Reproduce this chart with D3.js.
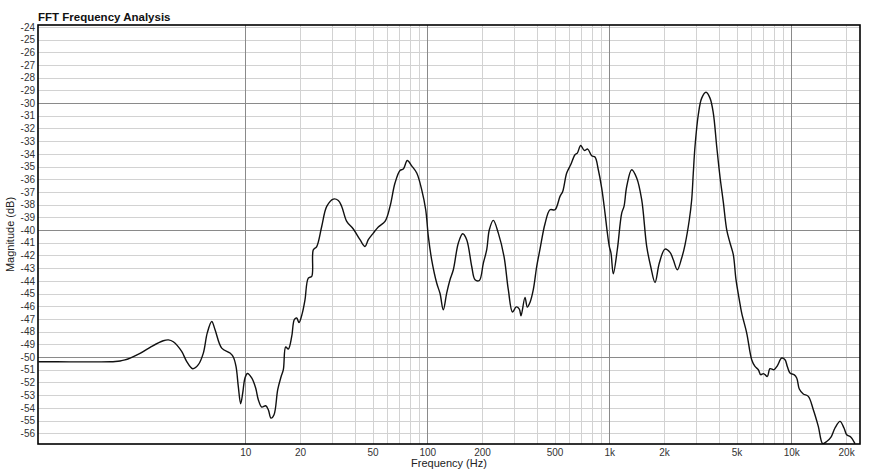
<!DOCTYPE html>
<html>
<head>
<meta charset="utf-8">
<script src="https://cdn.jsdelivr.net/npm/d3@7/dist/d3.min.js"></script>
<style>
  html, body { margin: 0; padding: 0; background: #fff; }
  svg { display: block; font-family: "Liberation Sans", Arial, Helvetica, sans-serif; }
</style>
</head>
<body>
<svg id="chart" width="875" height="472"></svg>
<script>
// ---------- data ----------
const title = "FFT Frequency Analysis";
const xLabel = "Frequency (Hz)";
const yLabel = "Magnitude (dB)";

const freqHz = [
  0.73, 1.09, 1.59, 1.81, 1.93, 2.05, 2.18, 2.33, 2.64, 3.06, 3.54, 3.78, 4.02, 4.47, 4.76, 5.14, 5.52, 5.88,
  6.18, 6.54, 6.82, 7.42, 8.24, 8.59, 8.89, 9.15, 9.43, 9.68, 9.96, 10.28, 10.84, 11.4, 11.79,
  12.31, 12.94, 13.38, 13.84, 14.38, 15.07, 15.71, 16.18, 16.67, 17.23, 17.99, 18.59, 19.16, 19.73, 20.57,
  21.28, 22.19, 23.17, 23.64, 24.68, 26.29, 28.02, 30.45, 32.43, 33.86, 36.07, 39.21, 42.68, 45.47, 47.41,
  50.5, 53.8, 58.57, 62.4, 66.45, 70.8, 73.8, 77.65, 82.1, 87.5, 93.2, 98.0, 101.3, 105.7, 112.6,
  117.5, 122.4, 127.8, 133.3, 139.0, 148.1, 156.5, 164.6, 175.4, 182.9, 193.1, 203.2, 212.1, 219.2, 230.5,
  245.6, 263.9, 278.7, 293.9, 308.3, 320.3, 327.2, 344.2, 354.4, 366.7, 382.3, 399.1, 416.1, 443.4, 472.3,
  503, 536, 554.6, 583.3, 613.6, 647.8, 667.1, 696.5, 728.9, 760.9, 800.4, 834.5, 870.2, 908.3, 947.1,
  971.3, 1000, 1021.7, 1051.9, 1106.5, 1170, 1204.6, 1246.4, 1327.8, 1414.4, 1506.6, 1605.1, 1688.5, 1783, 1883,
  2023, 2156, 2247, 2364, 2499, 2606, 2752, 2836, 2894, 2957, 3083, 3219, 3399, 3575, 3728,
  3892, 4057, 4231, 4418, 4606, 4801, 4968, 5180, 5340, 5689, 6059, 6318, 6588, 6791, 7019,
  7171, 7383, 7640, 8036, 8377, 8857, 9236, 9506, 9837, 10347, 10708, 11066, 11638, 12400, 13213,
  14074, 14876, 15648, 16522, 17381, 18518, 19480, 20158, 21205, 22387
];
const magnitudeDb = [
  -50.37, -50.38, -50.38, -50.37, -50.35, -50.31, -50.23, -50.08, -49.72, -49.16, -48.72, -48.65, -48.8, -49.56, -50.34, -50.92, -50.6, -49.69,
  -48.1, -47.2, -47.85, -49.3, -49.69, -50.0, -50.74, -52.31, -53.68, -52.83, -51.65, -51.3, -51.65, -52.44, -53.36,
  -53.94, -53.84, -54.15, -54.81, -54.54, -52.57, -51.57, -51.0, -49.21, -49.37, -48.38, -47.06, -46.93, -47.28, -46.54,
  -45.49, -43.78, -43.65, -41.55, -41.3, -39.72, -38.14, -37.56, -37.67, -38.14, -39.32, -39.92, -40.76, -41.29, -40.76,
  -40.24, -39.76, -39.32, -38.14, -36.3, -35.3, -35.2, -34.52, -34.94, -35.51, -36.83, -38.4, -40.5, -42.34, -44.17,
  -45.0, -46.28, -44.96, -43.91, -43.13, -41.02, -40.29, -40.76, -42.87, -43.91, -43.97, -42.6, -41.55, -39.98, -39.24,
  -40.24, -42.08, -44.7, -46.45, -46.05, -46.22, -46.75, -45.3, -46.07, -45.7, -44.7, -42.87, -41.5, -39.5, -38.4,
  -38.4, -37.35, -36.96, -35.51, -34.86, -34.07, -33.94, -33.34, -33.73, -33.62, -34.15, -34.25, -35.25, -36.69, -38.66,
  -40.0, -41.29, -41.81, -43.44, -41.55, -38.66, -38.14, -36.57, -35.25, -35.9, -37.61, -41.29, -42.87, -44.13, -42.6,
  -41.5, -41.76, -42.34, -43.13, -42.2, -41.16, -39.19, -37.61, -35.51, -33.42, -30.92, -29.61, -29.15, -29.61, -30.79,
  -33.42, -35.8, -37.8, -39.98, -41.02, -41.94, -43.91, -45.49, -46.54, -48.11, -50.21, -50.74, -51.0, -51.39, -51.31,
  -51.39, -51.53, -50.92, -51.0, -50.69, -50.08, -50.21, -50.74, -51.26, -51.39, -51.65, -52.52, -52.91, -53.1, -54.15,
  -55.46, -56.82, -56.65, -56.3, -55.59, -55.07, -55.59, -56.12, -56.3, -56.82
];

const xTickValues = [10, 20, 50, 100, 200, 500, 1000, 2000, 5000, 10000, 20000];
const xTickLabels = ["10", "20", "50", "100", "200", "500", "1k", "2k", "5k", "10k", "20k"];
const xMajorGrid = [10, 100, 1000, 10000];
const xMinorGrid = [20, 30, 40, 50, 60, 70, 80, 90, 200, 300, 400, 500, 600, 700, 800, 900,
                    2000, 3000, 4000, 5000, 6000, 7000, 8000, 9000, 20000];
const yTickValues = d3.range(-24, -57, -1);
const yMajorGrid = [-30, -40, -50];
const xDomain = [0.726, 23850];
const yDomain = [-56.85, -23.85];

// ---------- layout ----------
const W = 875, H = 472;
const margin = { left: 38, right: 15, top: 25, bottom: 28 };
const svg = d3.select("#chart");

const x = d3.scaleLog().domain(xDomain).range([margin.left, W - margin.right]);
const y = d3.scaleLinear().domain(yDomain).range([H - margin.bottom, margin.top]);

const pw = W - margin.left - margin.right;
const ph = H - margin.top - margin.bottom;

svg.append("defs").append("clipPath").attr("id", "plotClip")
  .append("rect").attr("x", margin.left).attr("y", margin.top).attr("width", pw).attr("height", ph);

const grid = svg.append("g").attr("class", "grid");
grid.selectAll("line.hmin").data(yTickValues.filter(v => !yMajorGrid.includes(v))).join("line")
  .attr("x1", margin.left).attr("x2", W - margin.right)
  .attr("y1", d => Math.round(y(d)) + 0.5).attr("y2", d => Math.round(y(d)) + 0.5)
  .attr("stroke", "#d2d2d2").attr("stroke-width", 1);
grid.selectAll("line.vmin").data(xMinorGrid).join("line")
  .attr("y1", margin.top).attr("y2", H - margin.bottom)
  .attr("x1", d => Math.round(x(d)) + 0.5).attr("x2", d => Math.round(x(d)) + 0.5)
  .attr("stroke", "#d2d2d2").attr("stroke-width", 1);
grid.selectAll("line.hmaj").data(yMajorGrid).join("line")
  .attr("x1", margin.left).attr("x2", W - margin.right)
  .attr("y1", d => Math.round(y(d)) + 0.5).attr("y2", d => Math.round(y(d)) + 0.5)
  .attr("stroke", "#8a8a8a").attr("stroke-width", 1);
grid.selectAll("line.vmaj").data(xMajorGrid).join("line")
  .attr("y1", margin.top).attr("y2", H - margin.bottom)
  .attr("x1", d => Math.round(x(d)) + 0.5).attr("x2", d => Math.round(x(d)) + 0.5)
  .attr("stroke", "#8a8a8a").attr("stroke-width", 1);

// data line
const pts = freqHz.map((f, i) => [f, magnitudeDb[i]]);
const line = d3.line().x(d => x(d[0])).y(d => y(d[1])).curve(d3.curveCatmullRom.alpha(0.5));
svg.append("path").datum(pts)
  .attr("clip-path", "url(#plotClip)")
  .attr("d", line)
  .attr("fill", "none")
  .attr("stroke", "#111")
  .attr("stroke-width", 1.4)
  .attr("stroke-linejoin", "round");

// frame
svg.append("rect")
  .attr("x", margin.left).attr("y", margin.top).attr("width", pw).attr("height", ph)
  .attr("fill", "none").attr("stroke", "#000").attr("stroke-width", 1.6);

// axes (labels only)
const yAxis = d3.axisLeft(y).tickValues(yTickValues).tickSize(0).tickPadding(3)
  .tickFormat(d => d3.format("d")(d).replace("−", "-"));
const gy = svg.append("g").attr("transform", `translate(${margin.left},0)`).call(yAxis);
gy.select(".domain").remove();
gy.selectAll("text").attr("font-size", 10).attr("fill", "#333")
  .attr("font-family", "'Liberation Sans', Arial, sans-serif");

const xAxis = d3.axisBottom(x).tickValues(xTickValues).tickSize(0).tickPadding(5)
  .tickFormat((d, i) => xTickLabels[i]);
const gx = svg.append("g").attr("transform", `translate(0,${H - margin.bottom})`).call(xAxis);
gx.select(".domain").remove();
gx.selectAll("text").attr("font-size", 10).attr("fill", "#333")
  .attr("font-family", "'Liberation Sans', Arial, sans-serif");

// titles
svg.append("text").attr("x", margin.left).attr("y", 21)
  .attr("font-size", 11.5).attr("font-weight", "bold").attr("fill", "#111")
  .text(title);
svg.append("text").attr("x", margin.left + pw / 2).attr("y", 467)
  .attr("text-anchor", "middle").attr("font-size", 11).attr("fill", "#222")
  .text(xLabel);
svg.append("text")
  .attr("transform", `translate(14,${margin.top + ph / 2}) rotate(-90)`)
  .attr("text-anchor", "middle").attr("font-size", 11).attr("fill", "#222")
  .text(yLabel);
</script>
</body>
</html>
